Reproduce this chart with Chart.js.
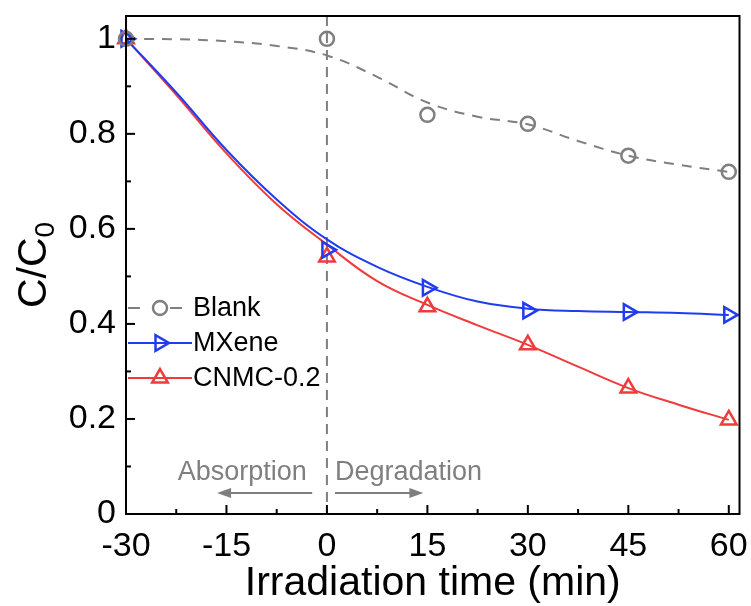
<!DOCTYPE html>
<html>
<head>
<meta charset="utf-8">
<script src="https://cdn.jsdelivr.net/npm/chart.js@4.4.0/dist/chart.umd.min.js"></script>
<style>
  html, body { margin: 0; padding: 0; background: #fff; }
</style>
</head>
<body>
<canvas id="chart" width="751" height="606"></canvas>
<script>
(function() {
    'use strict';

    // measured points
    const times = [-30, 0, 15, 30, 45, 60];
    const blankPts = [1.0, 1.0, 0.84, 0.821, 0.754, 0.72];
    const mxenePts = [1.0, 0.556, 0.476, 0.428, 0.425, 0.419];
    const cnmcPts = [1.0, 0.541, 0.436, 0.356, 0.265, 0.198];

    // fitted curves
    const fitTimes = [-30, -22.5, -15, -7.5, 0, 7.5, 15, 22.5, 30, 37.5, 45, 52.5, 60];
    const blankFit = [1.0, 0.999, 0.995, 0.985, 0.965, 0.92, 0.866, 0.836, 0.82, 0.785, 0.754, 0.735, 0.72];
    const mxeneFit = [1.0, 0.887, 0.766, 0.662, 0.578, 0.52, 0.478, 0.447, 0.432, 0.427, 0.425, 0.423, 0.419];
    const cnmcFit = [1.0, 0.882, 0.759, 0.652, 0.567, 0.49, 0.44, 0.397, 0.356, 0.31, 0.265, 0.23, 0.198];

    const xTicks = [-30, -15, 0, 15, 30, 45, 60];
    const xMinor = [-22.5, -7.5, 7.5, 22.5, 37.5, 52.5];
    const yTicks = [0, 0.2, 0.4, 0.6, 0.8, 1.0];
    const yMinor = [0.1, 0.3, 0.5, 0.7, 0.9];

    const GREY = '#7f7f7f';
    const BLUE = '#1f3cf0';
    const RED = '#ef3b3b';
    const FONT = "'Liberation Sans', Arial, sans-serif";

    const pts = (xs, ys) => xs.map((x, i) => ({ x: x, y: ys[i] }));

    const series = [
        { label: 'Blank', color: GREY, pts: blankPts, fit: blankFit, style: 'circle', rot: 0, r: 7, dash: [10, 8] },
        { label: 'MXene', color: BLUE, pts: mxenePts, fit: mxeneFit, style: 'triangle', rot: 90, r: 9, dash: [] },
        { label: 'CNMC-0.2', color: RED, pts: cnmcPts, fit: cnmcFit, style: 'triangle', rot: 0, r: 9, dash: [] }
    ];

    const datasets = [];
    series.forEach(s => {
        datasets.push({
            label: s.label,
            data: pts(times, s.pts),
            showLine: false,
            pointStyle: s.style,
            rotation: s.rot,
            pointRadius: s.r,
            pointBorderWidth: 2.5,
            pointBorderColor: s.color,
            pointBackgroundColor: 'rgba(0,0,0,0)',
            borderColor: s.color,
            clip: false
        });
    });
    series.forEach(s => {
        datasets.push({
            label: s.label + ' fit',
            data: pts(fitTimes, s.fit),
            borderColor: s.color,
            borderWidth: 2,
            borderDash: s.dash,
            pointRadius: 0,
            tension: 0.4,
            fill: false
        });
    });

    function line(ctx, x1, y1, x2, y2) {
        ctx.beginPath();
        ctx.moveTo(x1, y1);
        ctx.lineTo(x2, y2);
        ctx.stroke();
    }

    function arrow(ctx, x1, x2, y) {
        const dir = x2 > x1 ? 1 : -1;
        line(ctx, x1, y, x2 - dir * 10, y);
        ctx.beginPath();
        ctx.moveTo(x2, y);
        ctx.lineTo(x2 - dir * 14, y - 5);
        ctx.lineTo(x2 - dir * 14, y + 5);
        ctx.closePath();
        ctx.fill();
    }

    function noPad(s) {
        s.paddingTop = 0;
        s.paddingBottom = 0;
        s.paddingLeft = 0;
        s.paddingRight = 0;
    }

    const overlay = {
        id: 'overlay',
        beforeDatasetsDraw(chart) {
            const ctx = chart.ctx;
            const a = chart.chartArea;
            const x0 = chart.scales.x.getPixelForValue(0);
            ctx.save();
            ctx.strokeStyle = GREY;
            ctx.lineWidth = 2;
            ctx.setLineDash([10, 7]);
            line(ctx, x0, a.top, x0, a.bottom);
            ctx.restore();
        },
        afterDraw(chart) {
            const ctx = chart.ctx;
            const a = chart.chartArea;
            const sx = chart.scales.x;
            const sy = chart.scales.y;
            ctx.save();

            // frame
            ctx.strokeStyle = '#000';
            ctx.lineWidth = 2;
            ctx.strokeRect(a.left, a.top, a.right - a.left, a.bottom - a.top);

            // inward ticks
            xTicks.forEach(v => { const p = sx.getPixelForValue(v); line(ctx, p, a.bottom, p, a.bottom - 9); });
            xMinor.forEach(v => { const p = sx.getPixelForValue(v); line(ctx, p, a.bottom, p, a.bottom - 5); });
            yTicks.forEach(v => { const p = sy.getPixelForValue(v); line(ctx, a.left, p, a.left + 9, p); });
            yMinor.forEach(v => { const p = sy.getPixelForValue(v); line(ctx, a.left, p, a.left + 5, p); });

            // axis titles
            ctx.fillStyle = '#000';
            ctx.textBaseline = 'middle';
            ctx.textAlign = 'center';
            ctx.font = '41px ' + FONT;
            ctx.fillText('Irradiation time (min)', (a.left + a.right) / 2, 584);

            ctx.save();
            ctx.translate(32, (a.top + a.bottom) / 2);
            ctx.rotate(-Math.PI / 2);
            ctx.font = '41px ' + FONT;
            const mainW = ctx.measureText('C/C').width;
            ctx.font = '28px ' + FONT;
            const subW = ctx.measureText('0').width;
            const start = -(mainW + subW) / 2;
            ctx.textAlign = 'left';
            ctx.textBaseline = 'alphabetic';
            ctx.font = '41px ' + FONT;
            ctx.fillText('C/C', start, 14);
            ctx.font = '28px ' + FONT;
            ctx.fillText('0', start + mainW, 22);
            ctx.restore();

            // phase labels
            ctx.fillStyle = GREY;
            ctx.strokeStyle = GREY;
            ctx.font = '27px ' + FONT;
            ctx.textBaseline = 'middle';
            ctx.textAlign = 'right';
            ctx.fillText('Absorption', sx.getPixelForValue(-3), sy.getPixelForValue(0.087));
            ctx.textAlign = 'left';
            ctx.fillText('Degradation', sx.getPixelForValue(1.2), sy.getPixelForValue(0.087));
            const ay = sy.getPixelForValue(0.044);
            arrow(ctx, sx.getPixelForValue(-2.2), sx.getPixelForValue(-16.4), ay);
            arrow(ctx, sx.getPixelForValue(1.2), sx.getPixelForValue(14.4), ay);

            // legend
            const rows = [308, 343, 378];
            series.forEach((s, i) => {
                const y = rows[i];
                ctx.strokeStyle = s.color;
                ctx.lineWidth = 2;
                if (s.dash.length) {
                    line(ctx, 128, y, 140, y);
                    line(ctx, 170, y, 182, y);
                } else {
                    line(ctx, 128, y, 192, y);
                }
                ctx.lineWidth = 2.5;
                ctx.fillStyle = 'rgba(0,0,0,0)';
                Chart.helpers.drawPoint(ctx, {
                    pointStyle: s.style, rotation: s.rot, radius: s.r, borderWidth: 2.5
                }, 160, y);
                ctx.fillStyle = '#000';
                ctx.font = '27px ' + FONT;
                ctx.textAlign = 'left';
                ctx.fillText(s.label, 193, y + 1);
            });

            ctx.restore();
        }
    };

    new Chart(document.getElementById('chart'), {
        type: 'line',
        data: { datasets: datasets },
        options: {
            responsive: false,
            animation: false,
            layout: { padding: { top: 16, right: 11, left: 0, bottom: 0 } },
            plugins: { legend: { display: false }, tooltip: { enabled: false } },
            scales: {
                x: {
                    type: 'linear',
                    min: -30,
                    max: 61.6,
                    grid: { display: false, drawTicks: false },
                    border: { display: false },
                    afterBuildTicks: s => { s.ticks = xTicks.map(v => ({ value: v })); },
                    afterFit: s => { s.height = 92; noPad(s); },
                    ticks: {
                        color: '#000',
                        padding: 12,
                        font: { family: FONT, size: 34 },
                        callback: v => String(v)
                    }
                },
                y: {
                    min: 0,
                    max: 1.048,
                    grid: { display: false, drawTicks: false },
                    border: { display: false },
                    afterBuildTicks: s => { s.ticks = yTicks.map(v => ({ value: v })); },
                    afterFit: s => { s.width = 126; noPad(s); },
                    ticks: {
                        color: '#000',
                        padding: 10,
                        font: { family: FONT, size: 34 },
                        callback: v => String(+v.toFixed(1))
                    }
                }
            }
        },
        plugins: [overlay]
    });
})();
</script>
</body>
</html>
